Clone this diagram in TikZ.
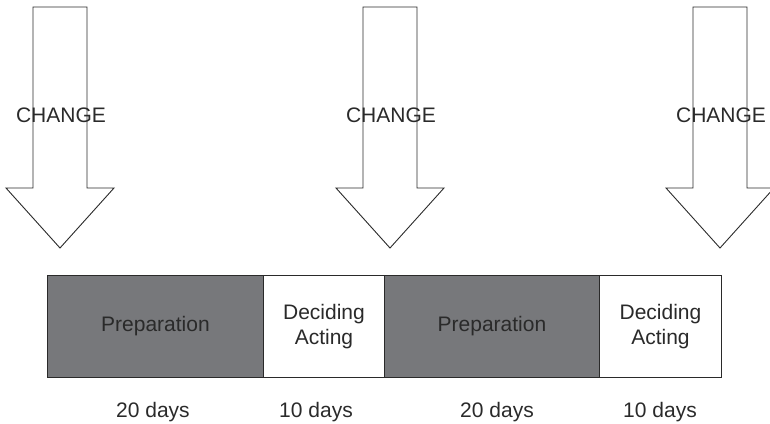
\documentclass[tikz,border=0pt]{standalone}
\usepackage{fontspec}
\setmainfont{Liberation Sans}
\definecolor{prepgray}{HTML}{77787B}
\definecolor{inkgray}{HTML}{2A2A2A}
\begin{document}
\begin{tikzpicture}[x=1pt,y=-1pt,
  outline/.style={draw=inkgray,line width=0.9pt},
  label/.style={font=\fontsize{21}{25}\selectfont,text=inkgray,inner sep=0pt,align=center},
  phase/.style={outline,minimum height=102pt,inner sep=0pt,anchor=north west,
    font=\fontsize{21}{25}\selectfont,text=inkgray,align=center},
  prep/.style={phase,fill=prepgray},
  act/.style={phase,fill=white},
  changearrow/.style={outline,fill=none,line join=miter}]
\useasboundingbox (0,0) rectangle (770,423);

% change arrows: shaft x from c-27 to c+27, head from c-54 to c+54
\foreach \c/\n in {60/a, 390/b, 720/c}{
  \draw[changearrow] (\c-27,7) -- (\c+27,7) -- (\c+27,188) -- (\c+54,188)
    -- (\c,248) -- (\c-54,188) -- (\c-27,188) -- cycle;
  \node[label] (change\n) at (\c+1,115) {CHANGE};
}

% timeline bar
\node[prep,minimum width=216pt] (p1) at (47,275) {Preparation};
\node[act,minimum width=121pt] (d1) at (263,275) {Deciding\\Acting};
\node[prep,minimum width=215pt] (p2) at (384,275) {Preparation};
\node[act,minimum width=122pt] (d2) at (599,275) {Deciding\\Acting};

% durations
\node[label] (t1) at (153,412) {20 days};
\node[label] (t2) at (316,412) {10 days};
\node[label] (t3) at (497,412) {20 days};
\node[label] (t4) at (660,412) {10 days};
\end{tikzpicture}
\end{document}
